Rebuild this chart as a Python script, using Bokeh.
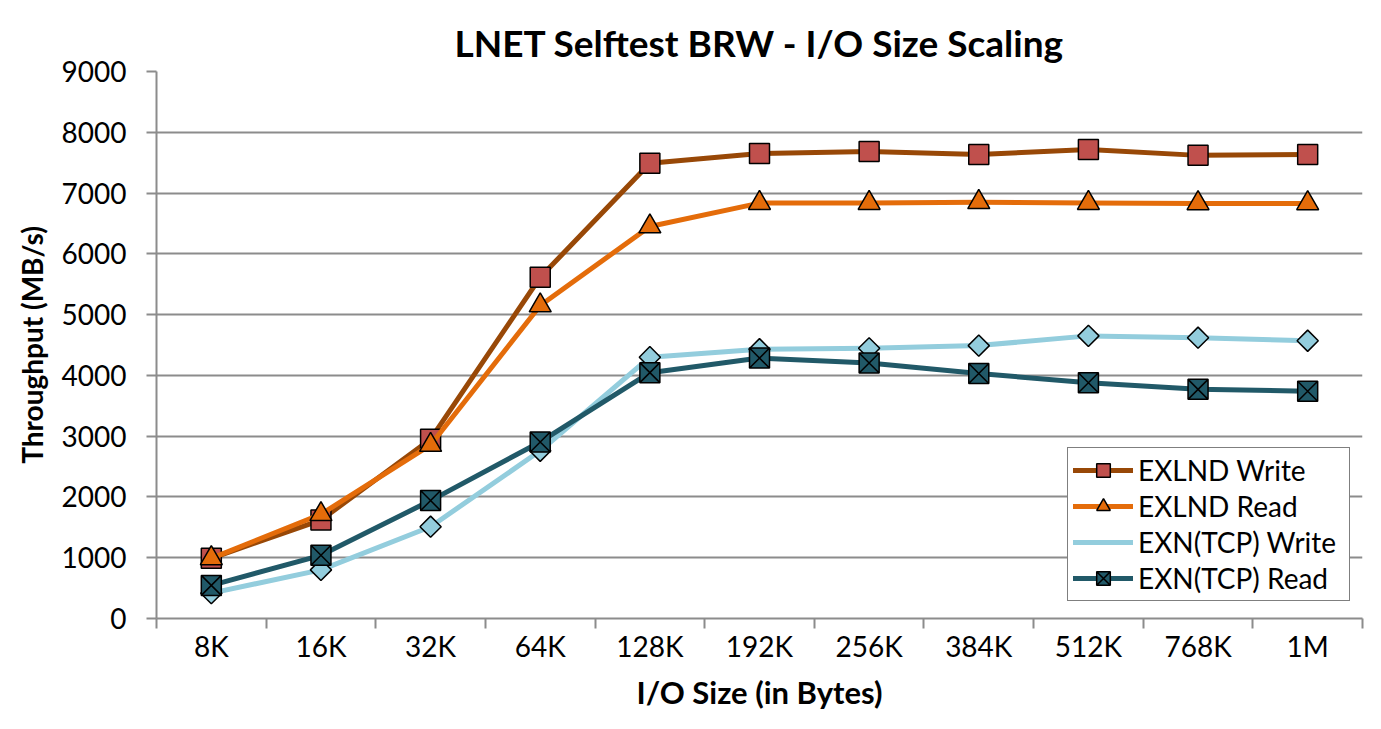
import math
from bokeh.plotting import figure
from bokeh.models import Range1d, FixedTicker, Legend, LegendItem
from bokeh.embed import file_html
from bokeh.resources import INLINE

categories = ["8K", "16K", "32K", "64K", "128K", "192K", "256K", "384K", "512K", "768K", "1M"]
exlnd_write = [990, 1620, 2950, 5615, 7490, 7650, 7685, 7635, 7715, 7620, 7635]
exlnd_read = [990, 1715, 2855, 5150, 6450, 6835, 6835, 6850, 6835, 6830, 6830]
exn_write = [417, 800, 1510, 2760, 4300, 4430, 4445, 4490, 4650, 4620, 4570]
exn_read = [545, 1040, 1940, 2905, 4045, 4285, 4205, 4030, 3880, 3770, 3740]
y_ticks = list(range(0, 9001, 1000))

xs = [i + 0.5 for i in range(len(categories))]

FONT = "Lato"

p = figure(width=1365, height=713, output_backend="svg", toolbar_location=None,
           x_range=Range1d(0, len(categories)), y_range=Range1d(0, 9000),
           min_border_left=156, min_border_right=3, min_border_top=71, min_border_bottom=93,
           title="LNET Selftest BRW - I/O Size Scaling")

p.title.align = "center"
p.title.vertical_align = "top"
p.title.text_font = FONT
p.title.text_font_size = "37px"
p.title.text_font_style = "bold"
p.title.text_color = "black"
p.title.standoff = 10

p.outline_line_color = None
p.background_fill_color = "white"
p.border_fill_color = "white"

# grids
p.xgrid.grid_line_color = None
p.ygrid.grid_line_color = "#8c8c8c"
p.ygrid.grid_line_width = 2
p.ygrid.ticker = FixedTicker(ticks=y_ticks)

# y axis
p.yaxis.ticker = FixedTicker(ticks=y_ticks)
p.yaxis.axis_line_color = "#8c8c8c"
p.yaxis.axis_line_width = 2
p.yaxis.major_tick_line_color = "#8c8c8c"
p.yaxis.major_tick_line_width = 2
p.yaxis.major_tick_out = 10
p.yaxis.major_tick_in = 0
p.yaxis.minor_tick_line_color = None
p.yaxis.major_label_text_font = FONT
p.yaxis.major_label_text_font_size = "28px"
p.yaxis.major_label_text_color = "black"
p.yaxis.major_label_standoff = 20
p.yaxis.axis_label = "Throughput (MB/s)"
p.yaxis.axis_label_text_font = FONT
p.yaxis.axis_label_text_font_size = "28px"
p.yaxis.axis_label_text_font_style = "bold"
p.yaxis.axis_label_text_color = "black"
p.yaxis.axis_label_standoff = 10

# x axis
p.xaxis.ticker = FixedTicker(ticks=xs, minor_ticks=list(range(0, len(categories) + 1)))
p.xaxis.major_label_overrides = {x: c for x, c in zip(xs, categories)}
p.xaxis.axis_line_color = "#8c8c8c"
p.xaxis.axis_line_width = 2
p.xaxis.major_tick_line_color = None
p.xaxis.major_tick_out = 0
p.xaxis.major_tick_in = 0
p.xaxis.minor_tick_line_color = "#8c8c8c"
p.xaxis.minor_tick_line_width = 2
p.xaxis.minor_tick_out = 10
p.xaxis.minor_tick_in = 0
p.xaxis.major_label_text_font = FONT
p.xaxis.major_label_text_font_size = "28px"
p.xaxis.major_label_text_color = "black"
p.xaxis.major_label_standoff = 0
p.xaxis.axis_label = "I/O Size (in Bytes)"
p.xaxis.axis_label_text_font = FONT
p.xaxis.axis_label_text_font_size = "31px"
p.xaxis.axis_label_text_font_style = "bold"
p.xaxis.axis_label_text_color = "black"
p.xaxis.axis_label_standoff = 7

series = [
    ("EXLND Write", exlnd_write, "#984807", "#C0504D", "square", 20, 0, "square", 20),
    ("EXLND Read", exlnd_read, "#E46C0A", "#E46C0A", "triangle", 22, 0, "triangle", 22),
    ("EXN(TCP) Write", exn_write, "#93CDDD", "#93CDDD", "square", 15, math.pi / 4, "diamond", 24),
    ("EXN(TCP) Read", exn_read, "#215968", "#215968", "square_x", 20, 0, "square_x", 20),
]

items = []
for name, vals, lc, fc, marker, size, ang, lmarker, lsize in series:
    r1 = p.line(xs, vals, line_color=lc, line_width=5, line_join="round", line_cap="round")
    r2 = p.scatter(xs, vals, marker=marker, size=size, angle=ang, fill_color=fc,
                   line_color="black", line_width=1.5)
    if ang:
        # legend swatch: same marker look, drawn only in the legend
        r_leg = p.scatter(x=[], y=[], marker=lmarker, size=lsize, fill_color=fc,
                          line_color="black", line_width=1.5)
        items.append(LegendItem(label=name, renderers=[r1, r_leg]))
    else:
        items.append(LegendItem(label=name, renderers=[r1, r2]))

legend = Legend(items=items, location=(911, 17))
legend.label_text_font = FONT
legend.label_text_font_size = "28px"
legend.label_text_color = "black"
legend.border_line_color = "black"
legend.border_line_width = 1.5
legend.background_fill_color = "white"
legend.background_fill_alpha = 1
legend.glyph_width = 60
legend.glyph_height = 34
legend.label_standoff = 5
legend.label_height = 34
legend.label_width = 206
legend.spacing = 2
legend.padding = 5
legend.margin = 0
p.add_layout(legend, "center")

open("out.html", "w").write(file_html(p, INLINE))
